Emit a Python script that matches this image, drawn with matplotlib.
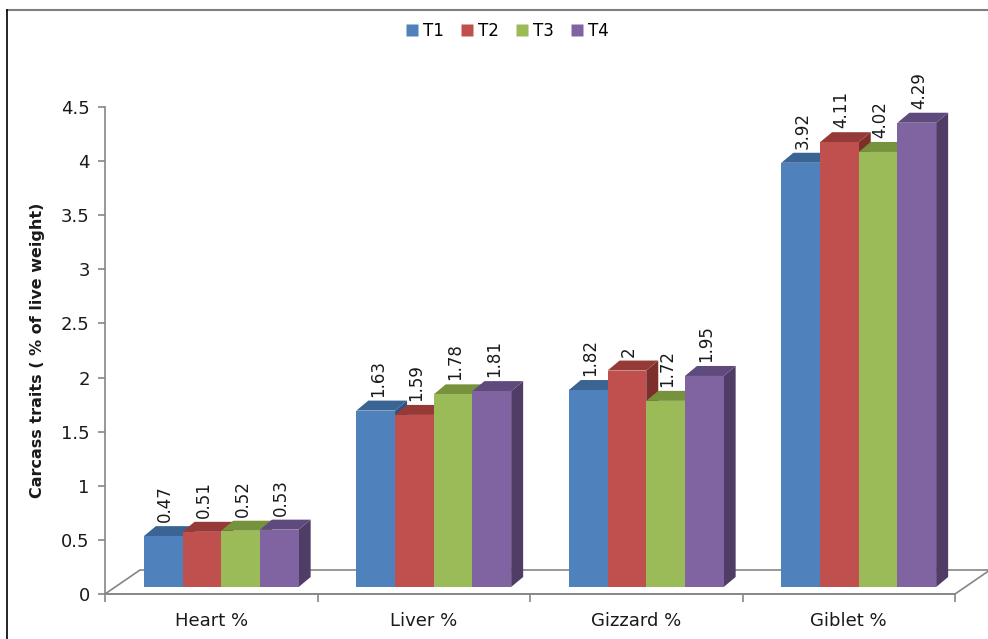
import matplotlib
matplotlib.use("Agg")
from matplotlib import pyplot as plt
from matplotlib.patches import Polygon
from matplotlib.lines import Line2D

plt.rcParams['font.family'] = ['DejaVu Sans']

categories = ["Heart %", "Liver %", "Gizzard %", "Giblet %"]
series = ["T1", "T2", "T3", "T4"]
values = {
    "T1": [0.47, 1.63, 1.82, 3.92],
    "T2": [0.51, 1.59, 2.00, 4.11],
    "T3": [0.52, 1.78, 1.72, 4.02],
    "T4": [0.53, 1.81, 1.95, 4.29],
}
y_ticks = [0, 0.5, 1, 1.5, 2, 2.5, 3, 3.5, 4, 4.5]

front = {"T1": "#4F81BD", "T2": "#C0504D", "T3": "#9BBB59", "T4": "#8064A2"}
top = {"T1": "#3A6494", "T2": "#963A37", "T3": "#76923C", "T4": "#5F4A7E"}
side = {"T1": "#2F5480", "T2": "#7E2E2B", "T3": "#617A30", "T4": "#4F3D66"}

fig = plt.figure(figsize=(9.88, 6.39), dpi=100)
ax = fig.add_axes([105/988, 45/639, 850/988, 487/639])
ax.set_xlim(0, 4)
ax.set_ylim(0, 4.5)

px_x = 850 / 4.0      # pixels per x unit
px_y = 487 / 4.5      # pixels per y unit
ddx = 12 / px_x       # depth offset
ddy = 10 / px_y
base = 7 / px_y
bw = 38.7 / px_x
shift = 10 / px_x

grey = "#868686"
# floor
fx = 35 / px_x
fy = 24 / px_y
floor = [(0, 0), (4, 0), (4 + fx, fy), (fx, fy)]
ax.add_patch(Polygon(floor, closed=True, facecolor="none", edgecolor=grey,
                     lw=1.2, clip_on=False, zorder=1))

for ci, cat in enumerate(categories):
    left0 = ci + 0.5 + shift - 2 * bw
    for si, s in enumerate(series):
        v = values[s][ci]
        x0 = left0 + si * bw
        x1 = x0 + bw
        y0 = base
        y1 = base + v
        z = 2 + si
        ax.add_patch(Polygon([(x1, y0), (x1 + ddx, y0 + ddy), (x1 + ddx, y1 + ddy), (x1, y1)],
                             closed=True, facecolor=side[s], edgecolor="none", clip_on=False, zorder=z))
        ax.add_patch(Polygon([(x0, y1), (x1, y1), (x1 + ddx, y1 + ddy), (x0 + ddx, y1 + ddy)],
                             closed=True, facecolor=top[s], edgecolor="none", clip_on=False, zorder=z))
        ax.add_patch(Polygon([(x0, y0), (x1, y0), (x1, y1), (x0, y1)],
                             closed=True, facecolor=front[s], edgecolor="none", clip_on=False, zorder=z))
        ax.text((x0 + x1) / 2 + 2 / px_x, y1 + ddy + 4 / px_y, f"{v:g}", rotation=90,
                ha="center", va="bottom", fontsize=12, color="#1A1A1A", zorder=10)

for sp in ["top", "right"]:
    ax.spines[sp].set_visible(False)
ax.spines["left"].set_color(grey)
ax.spines["bottom"].set_color(grey)
ax.spines["left"].set_linewidth(1.2)
ax.spines["bottom"].set_linewidth(1.2)

ax.set_yticks(y_ticks)
ax.set_yticklabels([f"{t:g}" for t in y_ticks])
ax.set_xticks([0, 1, 2, 3, 4])
ax.set_xticklabels([])
ax.set_xticks([0.5, 1.5, 2.5, 3.5], minor=True)
ax.set_xticklabels(categories, minor=True)
ax.tick_params(axis="y", colors=grey, labelcolor="#1A1A1A", labelsize=13, length=5, width=1.2, pad=6)
ax.tick_params(axis="x", which="major", colors=grey, length=6, width=1.2)
ax.tick_params(axis="x", which="minor", length=0, labelsize=13, labelcolor="#1A1A1A", pad=13)

fig.text(0.038, 1 - 350/639, "Carcass traits ( % of live weight)", rotation=90,
         ha="center", va="center", fontsize=11.5, fontweight="bold", color="#1A1A1A")

handles = [Line2D([], [], marker="s", linestyle="none", markersize=9,
                  markerfacecolor=front[s], markeredgecolor="none") for s in series]
fig.legend(handles, series, loc="center", bbox_to_anchor=(0.512, 0.951), ncol=4,
           frameon=False, fontsize=12, handletextpad=0.15, columnspacing=0.9,
           handlelength=1.0)

# chart border
fig.add_artist(Line2D([7/988, 1], [1 - 10/639, 1 - 10/639], color="#7F7F7F", lw=1.5))
fig.add_artist(Line2D([7/988, 7/988], [0, 1 - 10/639], color="black", lw=1.2))

fig.savefig("out.png", dpi=100)
